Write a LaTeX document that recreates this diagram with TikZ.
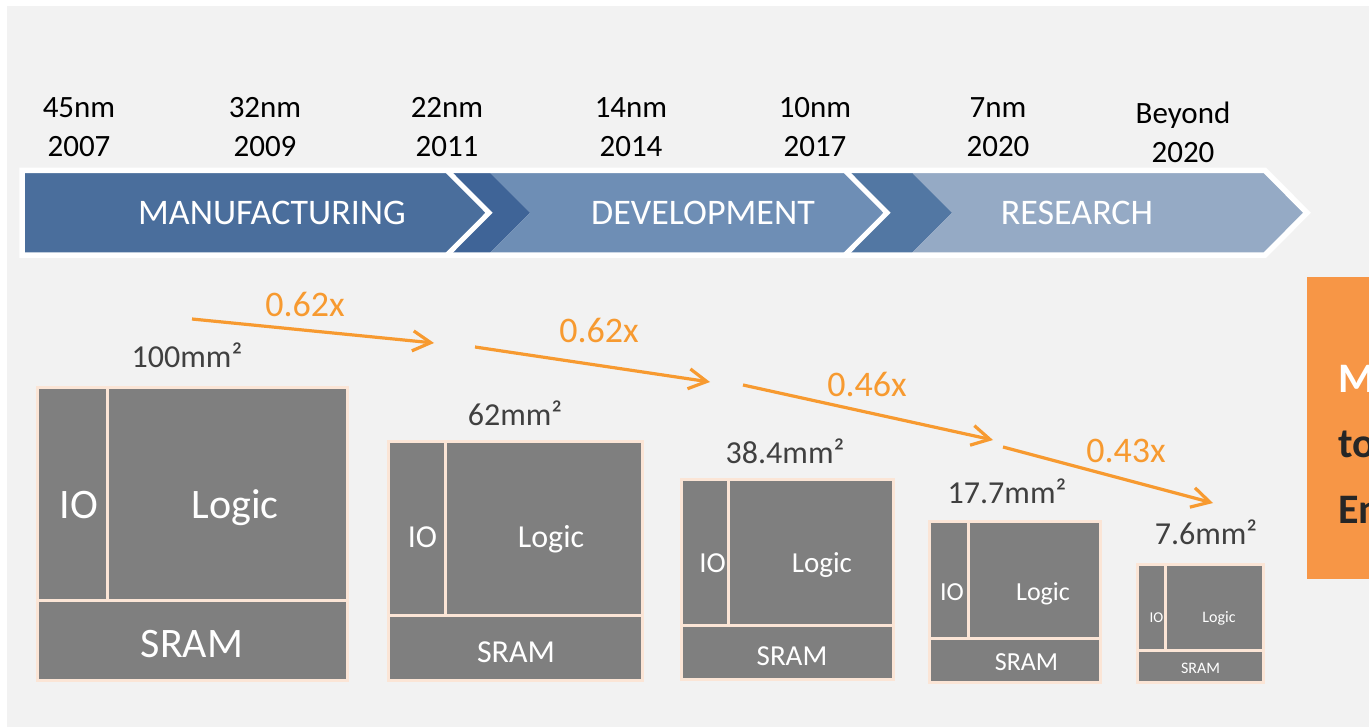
\documentclass[tikz,border=0pt]{standalone}
\usepackage{fontspec}
\setmainfont{Carlito}
\usetikzlibrary{arrows.meta}

\definecolor{pagegrey}{HTML}{F2F2F2}
\definecolor{manuf}{HTML}{4A6E9C}
\definecolor{devdark}{HTML}{3F6497}
\definecolor{devlight}{HTML}{6E8EB5}
\definecolor{resdark}{HTML}{5277A3}
\definecolor{reslight}{HTML}{95AAC5}
\definecolor{arroworange}{HTML}{F79A30}
\definecolor{boxorange}{HTML}{F79646}
\definecolor{boxtext}{HTML}{262626}
\definecolor{areagrey}{HTML}{404040}
\definecolor{diegrey}{HTML}{7F7F7F}
\definecolor{dieedge}{HTML}{FBE5D6}

\begin{document}
\begin{tikzpicture}[x=0.5pt,y=-0.5pt]
  \tikzstyle{every node}=[inner sep=0pt]
  \tikzstyle{year}=[anchor=base,align=center,font=\fontsize{15.5}{19.5}\selectfont]
  \tikzstyle{phase}=[anchor=base,text=white,font=\fontsize{18}{22}\selectfont]
  \tikzstyle{shrink}=[draw=arroworange,line width=1.6pt,-{Straight Barb[length=9pt,width=10pt]}]
  \tikzstyle{ratio}=[anchor=base,text=arroworange,font=\fontsize{18}{22}\selectfont]
  \tikzstyle{area}=[anchor=base,text=areagrey,font=\fontsize{16}{19}\selectfont]
  \tikzstyle{die}=[fill=diegrey,draw=dieedge,line width=1.5pt]
  \tikzstyle{split}=[draw=dieedge,line width=1.5pt]
  \tikzstyle{block}=[anchor=base,text=white]
  \tikzstyle{note}=[anchor=base west,font=\bfseries\fontsize{21}{25}\selectfont]

  \useasboundingbox (0,0) rectangle (1369,727);
  \fill[white] (0,0) rectangle (1369,727);
  \fill[pagegrey] (7,6) rectangle (1369,727);

  % node labels above the banner
  \foreach \x/\nm/\yr in {79/45nm/2007,265/32nm/2009,447/22nm/2011,631/14nm/2014,815/10nm/2017,998/7nm/2020}
    \node[year] (t\nm) at (\x,157) {\nm\\\yr};
  \node[year] (tbeyond) at (1183,163) {Beyond\\2020};

  % banner
  \fill[manuf] (22,170.5) -- (447,170.5) -- (489,212.75) -- (447,255) -- (22,255) -- cycle;
  \fill[devdark] (447,170.5) -- (488,170.5) -- (530,212.75) -- (488,255) -- (447,255) -- (489,212.75) -- cycle;
  \fill[devlight] (488,170.5) -- (845,170.5) -- (887,212.75) -- (845,255) -- (488,255) -- (530,212.75) -- cycle;
  \fill[resdark] (845,170.5) -- (910,170.5) -- (952,212.75) -- (910,255) -- (845,255) -- (887,212.75) -- cycle;
  \fill[reslight] (910,170.5) -- (1265,170.5) -- (1307,212.75) -- (1265,255) -- (910,255) -- (952,212.75) -- cycle;
  \draw[white,line width=2.75pt] (22,170.5) -- (1265,170.5) -- (1307,212.75) -- (1265,255) -- (22,255) -- cycle;
  \draw[white,line width=2.5pt] (447,170.5) -- (489,212.75) -- (447,255);
  \draw[white,line width=2.5pt] (845,170.5) -- (887,212.75) -- (845,255);
  \node[phase] (manufacturing) at (272,224.5) {MANUFACTURING};
  \node[phase] (development) at (703,224.5) {DEVELOPMENT};
  \node[phase] (research) at (1077,224.5) {RESEARCH};

  % shrink arrows
  \coordinate (s1) at (192,319);  \coordinate (e1) at (434,343);
  \coordinate (s2) at (475,347);  \coordinate (e2) at (710,382);
  \coordinate (s3) at (743,385);  \coordinate (e3) at (993,440);
  \coordinate (s4) at (1003,447); \coordinate (e4) at (1213,503);
  \draw[shrink] (s1) -- (e1);
  \draw[shrink] (s2) -- (e2);
  \draw[shrink] (s3) -- (e3);
  \draw[shrink] (s4) -- (e4);
  \node[ratio] (r1) at (305,316) {0.62x};
  \node[ratio] (r2) at (599,342) {0.62x};
  \node[ratio] (r3) at (867,396) {0.46x};
  \node[ratio] (r4) at (1126,462) {0.43x};

  % 45nm die
  \node[area] (a1) at (187,367) {100mm²};
  \path[die] (37.5,387) rectangle (347,680.5);
  \draw[split] (37.5,600.5) -- (347,600.5) (107,387) -- (107,600.5);
  \node[block,font=\fontsize{21}{25}\selectfont] (io1) at (79,518) {IO};
  \node[block,font=\fontsize{21}{25}\selectfont] (logic1) at (235,518) {Logic};
  \node[block,font=\fontsize{21}{25}\selectfont] (sram1) at (192,657) {SRAM};

  % 32nm die
  \node[area] (a2) at (515,425) {62mm²};
  \path[die] (388.5,441) rectangle (642,680);
  \draw[split] (388.5,615.5) -- (642,615.5) (445.5,441) -- (445.5,615.5);
  \node[block,font=\fontsize{16}{19}\selectfont] (io2) at (422.5,547) {IO};
  \node[block,font=\fontsize{16}{19}\selectfont] (logic2) at (551,547) {Logic};
  \node[block,font=\fontsize{16}{19}\selectfont] (sram2) at (516,662) {SRAM};

  % 22nm die
  \node[area] (a3) at (785,463) {38.4mm²};
  \path[die] (681,479) rectangle (893,679.5);
  \draw[split] (681,625.5) -- (893,625.5) (728,479) -- (728,625.5);
  \node[block,font=\fontsize{14.5}{17}\selectfont] (io3) at (712.5,572) {IO};
  \node[block,font=\fontsize{14.5}{17}\selectfont] (logic3) at (822,572) {Logic};
  \node[block,font=\fontsize{14.5}{17}\selectfont] (sram3) at (792,665) {SRAM};

  % 14nm die
  \node[area] (a4) at (1007,503) {17.7mm²};
  \path[die] (929.5,521) rectangle (1100.5,682);
  \draw[split] (929.5,638) -- (1100.5,638) (968,521) -- (968,638);
  \node[block,font=\fontsize{13}{16}\selectfont] (io4) at (952,600) {IO};
  \node[block,font=\fontsize{13}{16}\selectfont] (logic4) at (1043,600) {Logic};
  \node[block,font=\fontsize{13}{16}\selectfont] (sram4) at (1026.5,670) {SRAM};

  % 10nm die
  \node[area] (a5) at (1206,544) {7.6mm²};
  \path[die] (1137.5,564) rectangle (1263,682.5);
  \draw[split] (1137.5,650.5) -- (1263,650.5) (1165,564) -- (1165,650.5);
  \node[block,font=\fontsize{7.5}{9}\selectfont] (io5) at (1156.5,622) {IO};
  \node[block,font=\fontsize{8}{10}\selectfont] (logic5) at (1219,622) {Logic};
  \node[block,font=\fontsize{8}{10}\selectfont] (sram5) at (1200.5,673) {SRAM};

  % side note
  \fill[boxorange] (1307,277) rectangle (1369,579);
  \node[note,text=white] (n1) at (1338,392) {M};
  \node[note,text=boxtext] (n2) at (1338,457) {to};
  \node[note,text=boxtext] (n3) at (1338,523) {En};
\end{tikzpicture}
\end{document}
